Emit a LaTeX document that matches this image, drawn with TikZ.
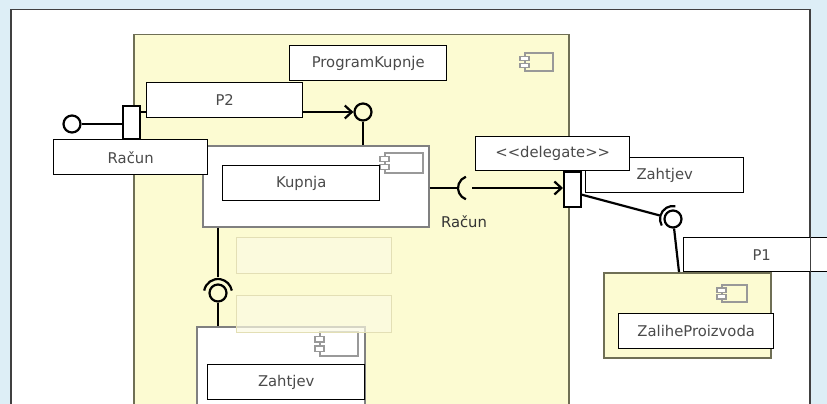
\documentclass[tikz,border=0pt]{standalone}
\usepackage{fontspec}
\setmainfont{DejaVu Sans}
\usetikzlibrary{arrows.meta,calc}
\definecolor{bgblue}{HTML}{DDEEF6}
\definecolor{compyel}{HTML}{FCFBD2}
\definecolor{compedge}{HTML}{6F6F55}
\definecolor{ghostfill}{HTML}{FBFAE3}
\definecolor{ghostedge}{HTML}{E3DFB5}
\definecolor{txtgray}{HTML}{4A4A4A}
% component icon: x, y, width, height
\newcommand{\cicon}[4]{\begin{scope}[shift={(#1,#2)}]
 \draw[icon] (0,0) rectangle (#3,#4);
 \draw[icon,fill=white] (-5,{0.18*#4}) rectangle (4,{0.42*#4});
 \draw[icon,fill=white] (-5,{0.58*#4}) rectangle (4,{0.82*#4});
\end{scope}}

\begin{document}
\begin{tikzpicture}[x=1pt,y=-1pt,
 lbl/.style={draw=black,line width=1.4pt,fill=white,anchor=north west,inner sep=0pt,minimum width=156pt,minimum height=35pt,font=\fontsize{14.8}{16}\selectfont,text=txtgray},
 comp/.style={draw=compedge,line width=1.5pt,anchor=north west,inner sep=0pt},
 ghost/.style={draw=ghostedge,line width=1.2pt,fill=ghostfill,fill opacity=0.7,anchor=north west,inner sep=0pt,minimum width=155pt,minimum height=36pt},
 port/.style={draw=black,line width=1.5pt,fill=white,anchor=north west,inner sep=0pt,minimum width=17pt},
 ball/.style={circle,draw=black,line width=2.2pt,inner sep=0pt,minimum size=17pt},
 conn/.style={line width=2.2pt,draw=black},
 arr/.style={conn,-{Straight Barb[length=7pt,width=13pt]}},
 icon/.style={draw=black!40,line width=1.2pt}
]
\useasboundingbox (0,0) rectangle (827,404);
\clip (0,0) rectangle (827,404);
\fill[bgblue] (0,0) rectangle (827,404);
\node[comp,draw=black!75,fill=white,minimum width=799pt,minimum height=420pt] (okvir) at (10,9) {};
\node[comp,fill=compyel,minimum width=435pt,minimum height=400pt] (prog) at (133,34) {};
\cicon{525}{53}{28}{18}
\node[lbl,minimum width=157pt] (lprog) at (289,45) {ProgramKupnje};
% inner parts
\node[comp,draw=black!50,fill=white,minimum width=226pt,minimum height=81pt] (kup) at (202,145) {};
\cicon{385}{153}{38}{20}
\node[comp,draw=black!50,fill=white,minimum width=168pt,minimum height=100pt] (zah) at (196,326) {};
\cicon{320}{332}{38}{24}
\node[comp,fill=compyel,minimum width=167pt,minimum height=85pt] (zal) at (603,272) {};
\cicon{722}{285}{25}{17}
\node[ghost] (g1) at (236,237) {};
\node[ghost,minimum height=37pt] (g2) at (236,295) {};
% ports and balls
\node[port,minimum height=33pt] (port1) at (122,105) {};
\node[port,minimum height=35pt] (port2) at (563,171) {};
\node[ball] (lollyL) at (72,124) {};
\node[ball] (tball) at (363,112) {};
\node[ball] (lball) at (218,293) {};
\node[ball] (rball) at (673,219) {};
\coordinate (rq) at (470,188);
\coordinate (zalstem) at (679,272);
% connectors
\draw[conn] (lollyL) -- (port1.west |- lollyL);
\draw[arr] (port1.east |- tball) -- (tball);
\draw[conn] (tball) -- (tball |- kup.north);
\draw[conn] (kup.east |- rq) -- ([xshift=-12pt]rq);
\draw[conn] ([shift={(110:12)}]rq) arc[start angle=110,end angle=250,radius=12];
\draw[arr] ([xshift=2pt]rq) -- (port2.west |- rq);
\draw[conn,shorten >=4pt] (port2.-30) -- (rball);
\draw[conn] ([shift={(150:13)}]rball.center) arc[start angle=150,end angle=280,radius=13];
\draw[conn] (rball) -- (zalstem);
\draw[conn,shorten >=6pt] (kup.south -| lball) -- (lball);
\draw[conn] ([shift={(190:14)}]lball.center) arc[start angle=190,end angle=350,radius=14];
\draw[conn] (lball) -- (lball |- zah.north);
% labels
\node[lbl] (lp2) at (146,82) {P2};
\node[lbl,minimum width=154pt] (lracun) at (53,139) {Račun};
\node[lbl,minimum width=157pt] (lkup) at (222,165) {Kupnja};
\node[lbl,minimum width=158pt] (lzahr) at (585,157) {Zahtjev};
\node[lbl,minimum width=154pt,minimum height=34pt] (ldel) at (475,136) {<\kern0pt<delegate>\kern0pt>};
\node[lbl,minimum width=156pt,minimum height=34pt] (lp1) at (683,237) {P1};
\node[lbl,minimum width=155pt] (lzal) at (618,313) {ZaliheProizvoda};
\node[lbl,minimum width=157pt] (lzahb) at (207,364) {Zahtjev};
\node[font=\fontsize{14.8}{16}\selectfont,text=black!80,inner sep=0pt] (racunR) at (464,222) {Račun};
\draw[black!75,line width=1.5pt] (okvir.north east) -- (okvir.south east);
\end{tikzpicture}
\end{document}
